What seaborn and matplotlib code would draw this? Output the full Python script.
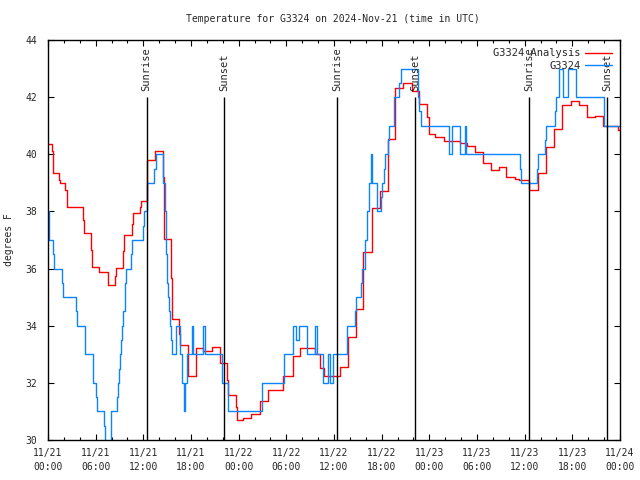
import numpy as np
import pandas as pd
import matplotlib
matplotlib.use("Agg")
import matplotlib.pyplot as plt
import seaborn as sns

# hours since 11/21 00:00 UTC, step data (value holds until next time)
obs_hours = [0.0, 0.13, 0.67, 0.8, 1.8, 1.93, 3.48, 3.6, 4.7, 5.62, 5.7, 6.04, 6.17, 7.09, 7.2,
             7.97, 8.69, 8.85, 8.97, 9.1, 9.23, 9.35, 9.5, 9.69, 9.75, 9.78, 10.45, 10.57, 11.9,
             12.03, 12.42, 13.4, 13.55, 14.52, 14.73, 14.85, 15.02, 15.15, 15.27, 15.36, 15.48,
             15.61, 16.15, 16.6, 16.9, 17.12, 17.3, 17.5, 18.08, 18.3, 19.55, 19.7, 21.86, 22.7,
             26.9, 29.7, 30.9, 31.2, 31.55, 32.56, 33.6, 33.8, 34.6, 35.3, 35.45, 35.83, 37.6,
             38.7, 38.8, 39.4, 39.5, 39.86, 39.95, 40.1, 40.2, 40.45, 40.7, 40.8, 41.4, 41.9,
             42.1, 42.3, 42.45, 42.8, 42.9, 43.5, 44.2, 44.4, 46.6, 46.75, 46.95, 50.5, 50.8,
             51.8, 52.5, 52.6, 59.4, 59.5, 61.6, 61.7, 62.56, 62.65, 63.8, 63.9, 64.3, 64.8,
             65.5, 66.5, 70.0, 72.0]
obs_temp = [38, 37, 36.5, 36, 35.5, 35, 34.5, 34, 33, 32.5, 32, 31.5, 31, 30.5, 29.5,
            31, 31.5, 32, 32.5, 33, 33.5, 34, 34.5, 35, 35.5, 36, 36.5, 37, 37.5,
            38, 39, 39.5, 40, 39, 38, 36.5, 35.5, 35, 34.5, 34, 33.5,
            33, 34, 33, 32, 31, 32, 33, 34, 33, 34, 33, 32, 31,
            32, 33, 34, 33.5, 34, 33, 34, 33, 32, 33, 32, 33, 34,
            34.5, 35, 35.5, 36, 36.5, 37, 37.5, 38, 39, 40, 39, 38, 38.5,
            39, 39.5, 40, 40.5, 41, 42, 42.5, 43, 42, 41.5, 41, 40, 41,
            40, 41, 40, 39.5, 39, 39.5, 40, 40.5, 41, 41.5, 42, 43, 42,
            43, 42, 41, 41]

ana_hours = [0.0, 0.46, 0.6, 1.39, 1.55, 2.2, 2.35, 4.45, 4.57, 5.41, 5.53, 6.46, 7.5, 7.58,
             8.43, 8.55, 9.48, 9.6, 10.53, 10.66, 11.58, 11.7, 12.42, 13.47, 14.52, 14.65,
             15.48, 15.6, 16.5, 16.67, 17.66, 18.63, 19.55, 20.6, 21.65, 22.57, 22.7, 23.67,
             23.85, 24.6, 25.6, 26.7, 27.7, 29.6, 30.8, 31.7, 33.6, 34.3, 34.7, 36.7, 37.7,
             38.8, 39.7, 40.75, 41.8, 42.8, 43.7, 44.7, 45.8, 46.7, 47.7, 47.9, 48.7, 49.8,
             51.9, 52.7, 53.7, 54.7, 55.7, 56.8, 57.7, 58.8, 59.3, 60.6, 61.7, 62.7, 63.7,
             64.7, 65.8, 66.8, 67.8, 68.9, 69.8, 71.7, 72.0]
ana_temp = [40.35, 40.1, 39.33, 39.1, 38.98, 38.75, 38.14, 37.7, 37.23, 36.64, 36.07, 35.87,
            35.7, 35.42, 35.75, 36.02, 36.6, 37.16, 37.55, 37.93, 38.14, 38.36, 39.8, 40.13,
            39.2, 37.03, 35.66, 34.22, 33.7, 33.33, 32.24, 33.21, 33.12, 33.24, 32.68, 32.1,
            31.57, 31.16, 30.7, 30.76, 30.91, 31.38, 31.75, 32.25, 32.94, 33.23, 33.0, 32.51,
            32.25, 32.54, 33.6, 34.57, 36.59, 38.11, 38.71, 40.52, 42.31, 42.48, 42.2, 41.75,
            41.3, 40.71, 40.6, 40.47, 40.4, 40.3, 40.09, 39.68, 39.45, 39.55, 39.22, 39.12,
            39.1, 38.75, 39.33, 40.24, 40.88, 41.73, 41.87, 41.73, 41.32, 41.35, 40.99, 40.85,
            40.85]

sunrise_hours = [12.42, 36.4, 60.58]
sunset_hours = [22.15, 46.2, 70.4]

xtick_hours = list(range(0, 73, 6))
xtick_labels = ["11/21\n00:00", "11/21\n06:00", "11/21\n12:00", "11/21\n18:00",
                "11/22\n00:00", "11/22\n06:00", "11/22\n12:00", "11/22\n18:00",
                "11/23\n00:00", "11/23\n06:00", "11/23\n12:00", "11/23\n18:00",
                "11/24\n00:00"]
ytick_vals = [30, 32, 34, 36, 38, 40, 42, 44]

sns.set_style("ticks")
plt.rcParams["font.family"] = ["DejaVu Sans Mono"]
plt.rcParams["font.size"] = 7

fig = plt.figure(figsize=(6.4, 4.8), dpi=100)
ax = fig.add_axes([48 / 640, 40 / 480, 572 / 640, 400 / 480])

ana = pd.DataFrame({"hour": ana_hours, "temp": ana_temp})
obs = pd.DataFrame({"hour": obs_hours, "temp": obs_temp})
sns.lineplot(data=ana, x="hour", y="temp", ax=ax, color="#ff0000", lw=1.0,
             drawstyle="steps-post", label="G3324 Analysis")
sns.lineplot(data=obs, x="hour", y="temp", ax=ax, color="#0a84ff", lw=1.0,
             drawstyle="steps-post", label="G3324")

for h in sunrise_hours:
    ax.vlines(h, 30, 42, color="black", lw=1.0)
    ax.text(h, 42.2, "Sunrise", rotation=90, ha="center", va="bottom", fontsize=7.5)
for h in sunset_hours:
    ax.vlines(h, 30, 42, color="black", lw=1.0)
    ax.text(h, 42.2, "Sunset", rotation=90, ha="center", va="bottom", fontsize=7.5)

ax.set_xlim(0, 72)
ax.set_ylim(30, 44)
ax.set_xticks(xtick_hours)
ax.set_xticklabels(xtick_labels, linespacing=1.4)
ax.set_xticks(range(0, 73, 2), minor=True)
ax.set_yticks(ytick_vals)
ax.tick_params(which="both", direction="in", top=True, right=True, color="black",
               labelsize=7)
ax.tick_params(which="major", length=4, width=0.8)
ax.tick_params(which="minor", length=2, width=0.8)
ax.tick_params(axis="x", pad=6)
ax.tick_params(axis="y", pad=8)
for s in ax.spines.values():
    s.set_color("black")
    s.set_linewidth(1.0)

ax.set_xlabel("")
ax.set_ylabel("degrees F", fontsize=7)
ax.yaxis.set_label_coords(-34 / 572, 0.5)
fig.text(333 / 640, 1 - 19 / 480, "Temperature for G3324 on 2024-Nov-21 (time in UTC)",
         ha="center", va="center", fontsize=7)

ax.legend(loc="upper right", bbox_to_anchor=(1.0, 1.0), frameon=False, markerfirst=False,
          fontsize=7.5, handlelength=2.6, handletextpad=0.4, labelspacing=0.25,
          borderaxespad=0.4)

fig.savefig("out.png", dpi=100)
